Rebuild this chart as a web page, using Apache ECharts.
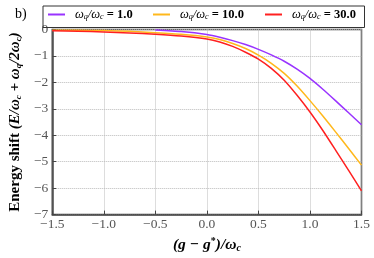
<!DOCTYPE html>
<html><head><meta charset="utf-8">
<script src="https://cdn.jsdelivr.net/npm/echarts@6/dist/echarts.min.js"></script>
<style>html,body{margin:0;padding:0;background:#fff}#c{width:374px;height:258px}</style>
</head><body><div id="c"></div>
<script>
const xs = [-1.5, -1.25, -1.0, -0.75, -0.5, -0.25, 0.0, 0.125, 0.25, 0.375, 0.5, 0.625, 0.75, 0.875, 1.0, 1.125, 1.25, 1.375, 1.5];
const purpleX = [-0.5, -0.25, 0.0, 0.125, 0.25, 0.375, 0.5, 0.625, 0.75, 0.875, 1.0, 1.125, 1.25, 1.375, 1.5];
const purpleY = [-0.02, -0.08, -0.19, -0.29, -0.42, -0.57, -0.75, -0.96, -1.2, -1.5, -1.85, -2.26, -2.7, -3.15, -3.6];
const orangeY = [-0.03, -0.03, -0.04, -0.07, -0.12, -0.18, -0.28, -0.38, -0.53, -0.72, -0.97, -1.28, -1.66, -2.14, -2.69, -3.27, -3.88, -4.5, -5.13];
const redY = [-0.05, -0.07, -0.09, -0.13, -0.18, -0.25, -0.36, -0.47, -0.64, -0.86, -1.12, -1.47, -1.92, -2.49, -3.12, -3.82, -4.57, -5.33, -6.1];
const seriesNames = ['1.0', '10.0', '30.0'];
const colors = ['#9933ff', '#ffb81c', '#ff2020'];

const serif = 'Liberation Serif';
const fmtMinus = s => s.replace('-', '\u2212');
const chart = echarts.init(document.getElementById('c'));
const pairs = (a, b) => a.map((v, i) => [v, b[i]]);
const legRich = {
  i: {fontFamily: serif, fontStyle: 'italic', fontSize: 12.5, color: '#000'},
  s: {fontFamily: serif, fontStyle: 'italic', fontSize: 8, color: '#000', padding: [5, 0, 0, 0]},
  n: {fontFamily: serif, fontWeight: 'bold', fontSize: 12.5, color: '#000'}
};
const legendLefts = [48, 153, 265];
const legends = seriesNames.map((n, k) => ({
  data: [n], left: legendLefts[k], top: 8, padding: 0,
  itemWidth: 17, itemHeight: 2, icon: 'rect',
  formatter: name => '{i|ω}{s|q}{i|/ω}{s|c}{n| = ' + name + '}',
  textStyle: {rich: legRich, padding: [0, 0, 0, 5]}
}));
const datas = [pairs(purpleX, purpleY), pairs(xs, orangeY), pairs(xs, redY)];
chart.setOption({
  animation: false,
  graphic: [
    {type: 'rect', left: 40.5, top: 3.5, shape: {width: 321.5, height: 21.5}, style: {fill: 'none', stroke: '#333', lineWidth: 1}, z: 10},
    {type: 'text', left: 15, top: 7, style: {text: 'b)', font: '14px "Liberation Serif"', fill: '#000'}}
  ],
  legend: legends,
  grid: {left: 41, right: 12.5, top: 29.5, bottom: 36.5, show: true, borderColor: '#444', borderWidth: 1.5},
  xAxis: {
    type: 'value', min: -1.5, max: 1.5, interval: 0.5,
    axisLine: {show: true, onZero: false, lineStyle: {color: '#444', width: 1.5}},
    axisTick: {show: true, inside: true, length: 4, lineStyle: {color: '#444'}},
    axisLabel: {fontFamily: serif, fontSize: 13.5, color: '#555', margin: 3,
      formatter: v => fmtMinus(v.toFixed(1))},
    splitLine: {show: true, lineStyle: {color: '#bbb', type: 'dotted', width: 1}},
    name: '{bi|(g − g}{sup|*}{bi|)/ω}{sub|c}', nameLocation: 'middle', nameGap: 19,
    nameTextStyle: {rich: {
      bi: {fontFamily: serif, fontStyle: 'italic', fontWeight: 'bold', fontSize: 15.5, color: '#000'},
      sup: {fontFamily: serif, fontWeight: 'bold', fontSize: 10, color: '#000', padding: [0, 0, 7, 0]},
      sub: {fontFamily: serif, fontStyle: 'italic', fontWeight: 'bold', fontSize: 10, color: '#000', padding: [6, 0, 0, 0]}
    }}
  },
  yAxis: {
    type: 'value', min: -7, max: 0, interval: 1,
    axisLine: {show: true, onZero: false, lineStyle: {color: '#444', width: 1.5}},
    axisTick: {show: true, inside: true, length: 4, lineStyle: {color: '#444'}},
    axisLabel: {fontFamily: serif, fontSize: 13.5, color: '#555', margin: 4,
      formatter: v => fmtMinus(String(v))},
    splitLine: {show: true, lineStyle: {color: '#bbb', type: 'dotted', width: 1}},
    name: '{b|Energy shift }{bi|(E/ω}{sub|c}{bi| + ω}{sub|q}{bi|/2ω}{sub|c}{bi|)}',
    nameLocation: 'middle', nameGap: 21, nameRotate: 90,
    nameTextStyle: {rich: {
      b: {fontFamily: serif, fontWeight: 'bold', fontSize: 15, color: '#000'},
      bi: {fontFamily: serif, fontStyle: 'italic', fontWeight: 'bold', fontSize: 15, color: '#000'},
      sub: {fontFamily: serif, fontStyle: 'italic', fontWeight: 'bold', fontSize: 9, color: '#000', padding: [6, 0, 0, 0]}
    }}
  },
  series: seriesNames.map((n, k) => ({
    name: n, type: 'line', data: datas[k], smooth: 0.2, showSymbol: false, symbol: 'none',
    lineStyle: {color: colors[k], width: 1.5}, itemStyle: {color: colors[k]}, z: 3 + k
  }))
});
</script></body></html>
